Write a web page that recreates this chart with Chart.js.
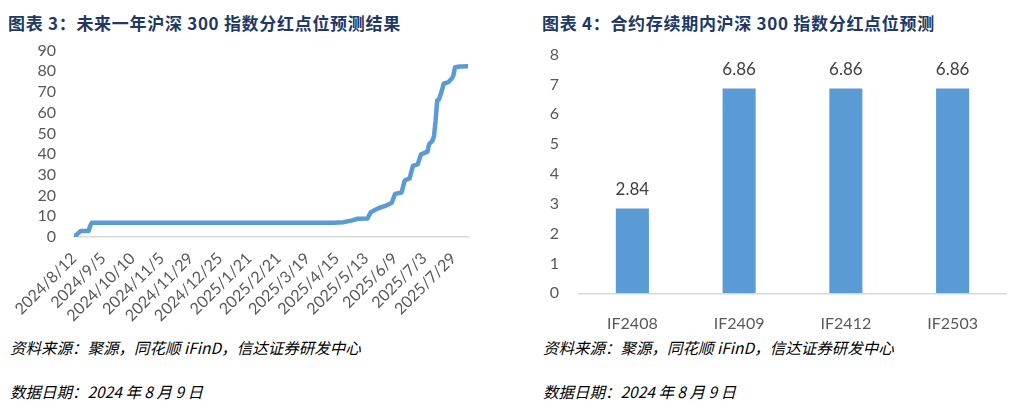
<!DOCTYPE html>
<html>
<head>
<meta charset="utf-8">
<script src="https://cdn.jsdelivr.net/npm/chart.js@4/dist/chart.umd.min.js"></script>
<style>
    body { margin: 0; background: #fff; width: 1030px; height: 409px; position: relative; overflow: hidden; }
    .title { position: absolute; top: 10px; font: bold 17px "Noto Sans CJK SC", sans-serif; letter-spacing: 0.7px; color: #203864; white-space: nowrap; }
    .note { position: absolute; font: italic 15.5px "Noto Sans CJK SC", sans-serif; color: #000; white-space: nowrap; }
    canvas { position: absolute; }
</style>
</head>
<body>
<div class="title" style="left:8px">图表 3：未来一年沪深 300 指数分红点位预测结果</div>
<div class="title" style="left:542px">图表 4：合约存续期内沪深 300 指数分红点位预测</div>

<canvas id="lineChart" width="500" height="295" style="left:0; top:31px"></canvas>
<canvas id="barChart" width="515" height="303" style="left:515px; top:33px"></canvas>

<div class="note" style="left:10px; top:336px">资料来源：聚源，同花顺 iFinD，信达证券研发中心</div>
<div class="note" style="left:10px; top:380px">数据日期：2024 年 8 月 9 日</div>
<div class="note" style="left:543px; top:336px">资料来源：聚源，同花顺 iFinD，信达证券研发中心</div>
<div class="note" style="left:543px; top:380px">数据日期：2024 年 8 月 9 日</div>

<script>
// Left chart: axis labels every 18 trading days
const dateTicks = ['2024/8/12', '2024/9/5', '2024/10/10', '2024/11/5', '2024/11/29', '2024/12/25',
    '2025/1/21', '2025/2/21', '2025/3/19', '2025/4/15', '2025/5/13', '2025/6/9', '2025/7/3', '2025/7/29'];
const tickStep = 18;
const lastDay = 243;

// trading day index (from 2024/8/12) and cumulative dividend points
const dayIndex = [0, 1, 2, 3, 4, 9, 10, 11, 160, 166, 171, 175, 181, 183, 185, 188, 192, 196, 198,
    202, 204, 207, 209, 212, 214, 218, 219, 221, 222, 223, 224, 225, 226, 227, 228, 231, 233, 234, 235, 238, 243];
const dividendPoints = [0, 0.7, 1.4, 2.1, 2.84, 2.9, 5.5, 6.86, 6.86, 7.1, 7.9, 8.8, 8.9, 12.0, 12.8, 14.0, 15.0, 16.5, 20.8,
    21.5, 27.3, 28.3, 34.3, 35.1, 39.9, 41.2, 44.8, 46.4, 48.5, 56, 66, 66.3, 68.5, 71, 74, 74.8, 76.5, 78, 82, 82.3, 82.5];

// Right chart
const contracts = ['IF2408', 'IF2409', 'IF2412', 'IF2503'];
const contractPoints = [2.84, 6.86, 6.86, 6.86];

const blue = '#5B9BD5';
const tickFont = { family: 'Lato, "Open Sans", sans-serif', size: 16 };
const tickColor = '#595959';

Chart.defaults.animation = false;
Chart.defaults.plugins.legend.display = false;
Chart.defaults.plugins.tooltip.enabled = false;

new Chart(document.getElementById('lineChart'), {
    type: 'line',
    data: {
        datasets: [{
            data: dayIndex.map((d, i) => ({ x: d, y: dividendPoints[i] })),
            borderColor: blue,
            borderWidth: 4.5,
            pointRadius: 0,
            tension: 0,
            borderCapStyle: 'round',
            borderJoinStyle: 'round'
        }]
    },
    options: {
        responsive: false,
        layout: { padding: { top: 10, right: 32, bottom: 0, left: 0 } },
        scales: {
            x: {
                type: 'linear',
                min: 0,
                max: lastDay,
                grid: { display: false },
                border: { display: true, color: '#D9D9D9', width: 1.5 },
                ticks: {
                    stepSize: tickStep,
                    includeBounds: false,
                    autoSkip: false,
                    maxRotation: 45,
                    minRotation: 45,
                    padding: 4,
                    color: tickColor,
                    font: tickFont,
                    callback: v => (v % tickStep === 0 ? dateTicks[v / tickStep] || '' : '')
                },
                afterFit: s => { s.height = 89; }
            },
            y: {
                min: 0,
                max: 90,
                grid: { display: false },
                border: { display: false },
                ticks: { stepSize: 10, autoSkip: false, color: tickColor, font: tickFont, padding: 10 },
                afterFit: s => { s.width = 74; }
            }
        }
    }
});

// value labels above the bars
const barLabels = {
    id: 'barLabels',
    afterDatasetsDraw(chart) {
        const ctx = chart.ctx;
        ctx.save();
        ctx.font = '17px Lato, "Open Sans", sans-serif';
        ctx.fillStyle = '#404040';
        ctx.textAlign = 'center';
        ctx.textBaseline = 'middle';
        chart.getDatasetMeta(0).data.forEach((bar, i) => {
            ctx.fillText(contractPoints[i].toFixed(2), bar.x, bar.y - 19);
        });
        ctx.restore();
    }
};

new Chart(document.getElementById('barChart'), {
    type: 'bar',
    data: {
        labels: contracts,
        datasets: [{
            data: contractPoints,
            backgroundColor: blue,
            categoryPercentage: 1,
            barPercentage: 0.31
        }]
    },
    options: {
        responsive: false,
        layout: { padding: { top: 16, right: 24, bottom: 0, left: 0 } },
        scales: {
            x: {
                grid: { display: false },
                border: { display: true, color: '#D9D9D9', width: 1.5 },
                ticks: { color: tickColor, font: tickFont, padding: 13 },
                afterFit: s => { s.height = 42.7; }
            },
            y: {
                min: 0,
                max: 8,
                grid: { display: false },
                border: { display: false },
                ticks: { stepSize: 1, autoSkip: false, color: tickColor, font: tickFont, padding: 12 },
                afterFit: s => { s.width = 64; }
            }
        }
    },
    plugins: [barLabels]
});
</script>
</body>
</html>
